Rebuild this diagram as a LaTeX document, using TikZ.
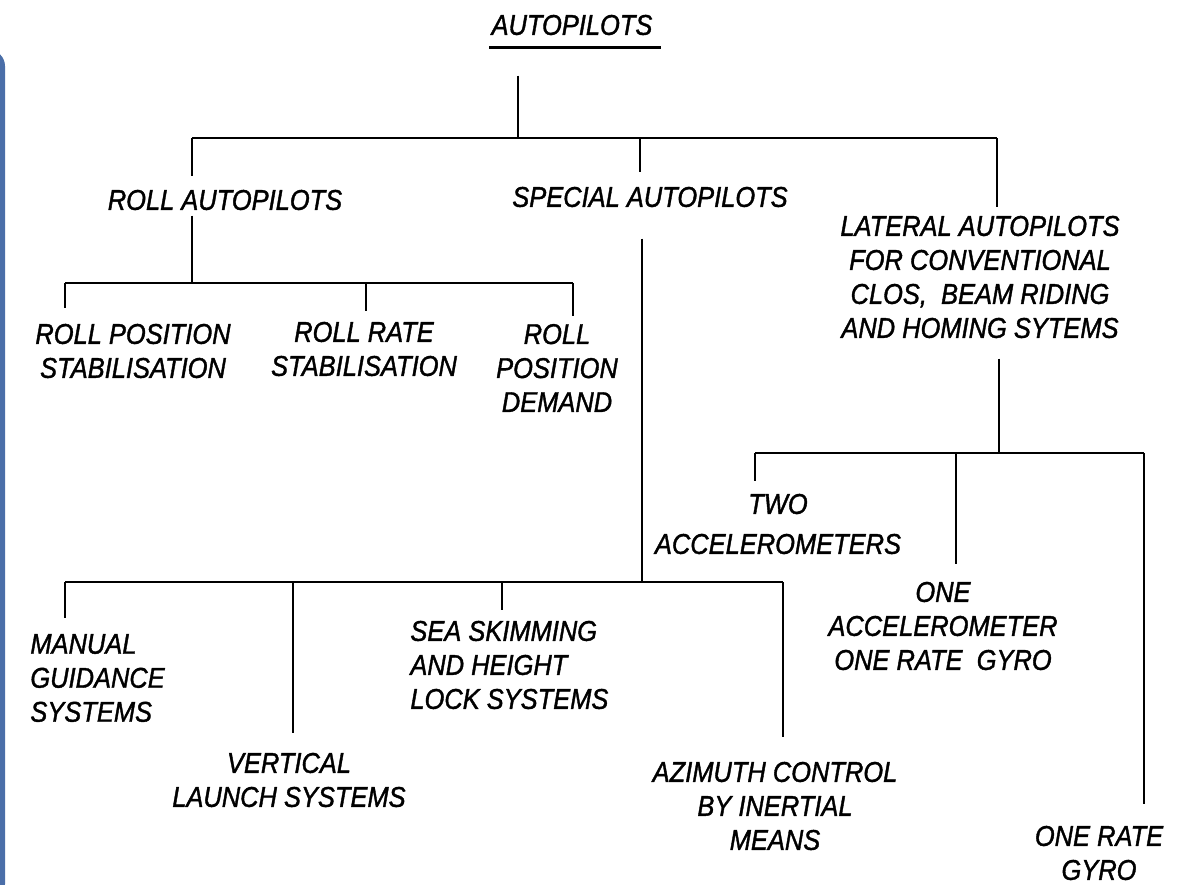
\documentclass[tikz,border=0pt]{standalone}
\usepackage{fontspec}
\newfontfamily\letterfont{Liberation Sans}[FakeStretch=0.89,FakeBold=1.3]
\definecolor{framebluec}{RGB}{74,110,168}
\begin{document}
\begin{tikzpicture}[x=0.5pt,y=-0.5pt,
		lbl/.style={font=\letterfont\itshape\fontsize{14.3}{17}\selectfont, align=center, inner sep=0pt},
		link/.style={line width=1.2pt}]
		\useasboundingbox (0,0) rectangle (1178,884);
		\fill[framebluec, rounded corners=8pt] (-40,50) rectangle (5,900);
		
		% Heading
		\node[lbl] (title) at (572,25) {AUTOPILOTS};
		\draw[line width=1.5pt] ([xshift=-1pt,yshift=-6.5pt]title.base west) -- ([xshift=4pt,yshift=-6.5pt]title.base east);
		
		% First level
		\node[lbl] (roll) at (225,200) {ROLL AUTOPILOTS};
		\node[lbl] (special) at (650,197) {SPECIAL AUTOPILOTS};
		\node[lbl] (lateral) at (980,277) {LATERAL AUTOPILOTS\\FOR CONVENTIONAL\\CLOS,\ \ BEAM RIDING\\AND HOMING SYTEMS};
		\coordinate (jtop) at (518,138);
		\coordinate (jroll) at (192,138);
		\coordinate (jspec) at (640,138);
		\coordinate (jlat) at (997,138);
		\draw[link, shorten <=20pt] (title.south -| jtop) -- (jtop);
		\draw[link] (jroll) -- (jlat);
		\draw[link, shorten >=6.5pt] (jroll) -- (jroll |- roll.north);
		\draw[link, shorten >=7pt] (jspec) -- (jspec |- special.north);
		\draw[link, shorten >=4pt] (jlat) -- (jlat |- lateral.north);
		
		% Roll autopilots
		\node[lbl] (rollpos) at (133,351) {ROLL POSITION\\STABILISATION};
		\node[lbl] (rollrate) at (364,349) {ROLL RATE\\STABILISATION};
		\node[lbl] (rolldem) at (557,368) {ROLL\\POSITION\\DEMAND};
		\coordinate (rbar) at (192,283);
		\coordinate (rpos) at (65,283);
		\coordinate (rrate) at (366,283);
		\coordinate (rdem) at (573,283);
		\draw[link, shorten <=2.5pt] (roll.south -| rbar) -- (rbar);
		\draw[link] (rpos) -- (rdem);
		\draw[link, shorten >=7.5pt] (rpos) -- (rpos |- rollpos.north);
		\draw[link, shorten >=5pt] (rrate) -- (rrate |- rollrate.north);
		\draw[link, shorten >=4pt] (rdem) -- (rdem |- rolldem.north);
		
		% Special autopilots
		\node[lbl, align=left, anchor=west] (manual) at (30,678) {MANUAL\\GUIDANCE\\SYSTEMS};
		\node[lbl] (vertical) at (289,780) {VERTICAL\\LAUNCH SYSTEMS};
		\node[lbl, align=left, anchor=west] (sea) at (410,665) {SEA SKIMMING\\AND HEIGHT\\LOCK SYSTEMS};
		\node[lbl] (azimuth) at (775,806) {AZIMUTH CONTROL\\BY INERTIAL\\MEANS};
		\coordinate (sbar) at (642,582);
		\coordinate (sman) at (65,582);
		\coordinate (svert) at (293,582);
		\coordinate (ssea) at (502,582);
		\coordinate (sazi) at (783,582);
		\draw[link, shorten <=15.5pt] (special.south -| sbar) -- (sbar);
		\draw[link] (sman) -- (sazi);
		\draw[link, shorten >=8pt] (sman) -- (sman |- manual.north);
		\draw[link, shorten >=9.5pt] (svert) -- (svert |- vertical.north);
		\draw[link, shorten >=5pt] (ssea) -- (ssea |- sea.north);
		\draw[link, shorten >=12pt] (sazi) -- (sazi |- azimuth.north);
		
		% Lateral autopilots
		\node[lbl] (two) at (778,524) {TWO\\[3pt]ACCELEROMETERS};
		\node[lbl] (oneacc) at (943,626) {ONE\\ACCELEROMETER\\ONE RATE\ \ GYRO};
		\node[lbl] (onegyro) at (1099,853) {ONE RATE\\GYRO};
		\coordinate (lbar) at (999,453);
		\coordinate (ltwo) at (755,453);
		\coordinate (lacc) at (956,453);
		\coordinate (lgyro) at (1144,453);
		\draw[link, shorten <=10pt] (lateral.south -| lbar) -- (lbar);
		\draw[link] (ltwo) -- (lgyro);
		\draw[link, shorten >=6pt] (ltwo) -- (ltwo |- two.north);
		\draw[link, shorten >=8.5pt] (lacc) -- (lacc |- oneacc.north);
		\draw[link, shorten >=10.5pt] (lgyro) -- (lgyro |- onegyro.north);
	\end{tikzpicture}
\end{document}
